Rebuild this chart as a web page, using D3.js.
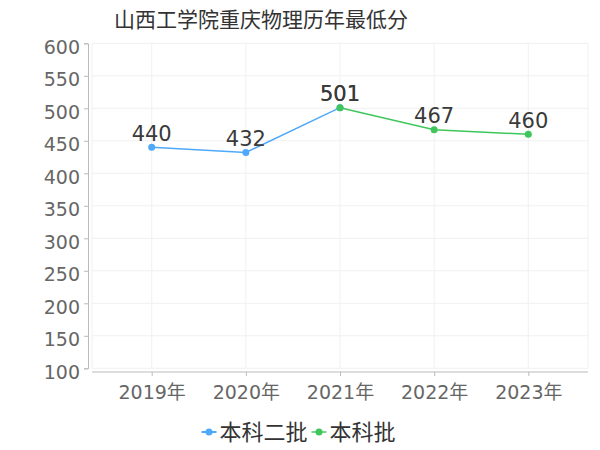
<!DOCTYPE html>
<html>
<head>
<meta charset="utf-8">
<script src="https://cdn.jsdelivr.net/npm/d3@7"></script>
<style>
  body { margin: 0; background: #fff; }
  text { font-family: "DejaVu Sans", "Noto Sans CJK SC", sans-serif; }
</style>
</head>
<body>
<div id="chart"></div>
<script>
// data
var years = ["2019年", "2020年", "2021年", "2022年", "2023年"];
var seriesNames = ["本科二批", "本科批"];
var seriesColors = ["#4ea9fb", "#3ec65b"];
var erpi = [440, 432, 501, null, null];
var benke = [null, null, 501, 467, 460];
var yTicks = [100, 150, 200, 250, 300, 350, 400, 450, 500, 550, 600];

var width = 600, height = 450;
var plotLeft = 92, plotRight = 588, plotTop = 43.3, plotBottom = 368.3;

var svg = d3.select("#chart").append("svg")
    .attr("width", width)
    .attr("height", height);

var x = d3.scalePoint().domain(years).range([plotLeft, plotRight]).padding(0.634);
var y = d3.scaleLinear().domain([100, 600]).range([plotBottom, plotTop]);

// title
svg.append("text")
    .attr("x", 261).attr("y", 27)
    .attr("text-anchor", "middle")
    .attr("font-size", 21)
    .attr("fill", "#333")
    .text("山西工学院重庆物理历年最低分");

// grid
var grid = svg.append("g").attr("stroke", "#f0f0f0").attr("stroke-width", 1);
grid.selectAll("line.h").data(yTicks).join("line")
    .attr("class", "h")
    .attr("x1", plotLeft).attr("x2", plotRight)
    .attr("y1", d => y(d)).attr("y2", d => y(d));
grid.selectAll("line.v").data([plotLeft].concat(years.map(d => x(d)), [plotRight])).join("line")
    .attr("class", "v")
    .attr("x1", d => d).attr("x2", d => d)
    .attr("y1", plotTop).attr("y2", plotBottom);

// y axis
var yAxis = svg.append("g")
    .attr("transform", "translate(88,0)")
    .call(d3.axisLeft(y).tickValues(yTicks).tickSize(4).tickPadding(4));
yAxis.select(".domain").attr("stroke", "#bbb");
yAxis.selectAll(".tick line").attr("stroke", "#bbb");
yAxis.selectAll("text").attr("font-size", 19).attr("fill", "#666")
    .attr("dy", "0.52em");

// x axis
var xAxis = svg.append("g")
    .attr("transform", "translate(0,372)")
    .call(d3.axisBottom(x).tickSizeOuter(0).tickSize(4).tickPadding(10));
xAxis.select(".domain").attr("stroke", "#bbb").attr("d", "M" + plotLeft + ",0H" + plotRight);
xAxis.selectAll(".tick line").attr("stroke", "#bbb");
xAxis.selectAll("text").attr("font-size", 19).attr("fill", "#666");

// lines
var all = [erpi, benke];
var line = d3.line()
    .defined(d => d != null)
    .x((d, i) => x(years[i]))
    .y(d => y(d));

all.forEach(function (vals, k) {
    svg.append("path")
        .datum(vals)
        .attr("fill", "none")
        .attr("stroke", seriesColors[k])
        .attr("stroke-width", 1.5)
        .attr("d", line);
});

all.forEach(function (vals, k) {
    var pts = vals.map((v, i) => ({ v: v, i: i })).filter(d => d.v != null);
    svg.append("g").selectAll("circle").data(pts).join("circle")
        .attr("cx", d => x(years[d.i]))
        .attr("cy", d => y(d.v))
        .attr("r", 3.5)
        .attr("fill", seriesColors[k]);
    svg.append("g").selectAll("text").data(pts).join("text")
        .attr("x", d => x(years[d.i]))
        .attr("y", d => y(d.v) - 6.5)
        .attr("text-anchor", "middle")
        .attr("font-size", 21)
        .attr("fill", "#3a3a3a")
        .text(d => d.v);
});

// legend
var legendX = [201.5, 311.5];
var lg = svg.append("g");
seriesNames.forEach(function (name, k) {
    var g = lg.append("g").attr("transform", "translate(" + legendX[k] + ",432)");
    g.append("line").attr("x1", 0).attr("x2", 15)
        .attr("stroke", seriesColors[k]).attr("stroke-width", 2).attr("opacity", k == 1 ? 0.7 : 1);
    g.append("circle").attr("cx", 7.5).attr("r", 3.5).attr("fill", seriesColors[k]);
    g.append("text").attr("x", 18).attr("y", 8)
        .attr("font-size", 22).attr("fill", "#333")
        .text(name);
});
</script>
</body>
</html>
